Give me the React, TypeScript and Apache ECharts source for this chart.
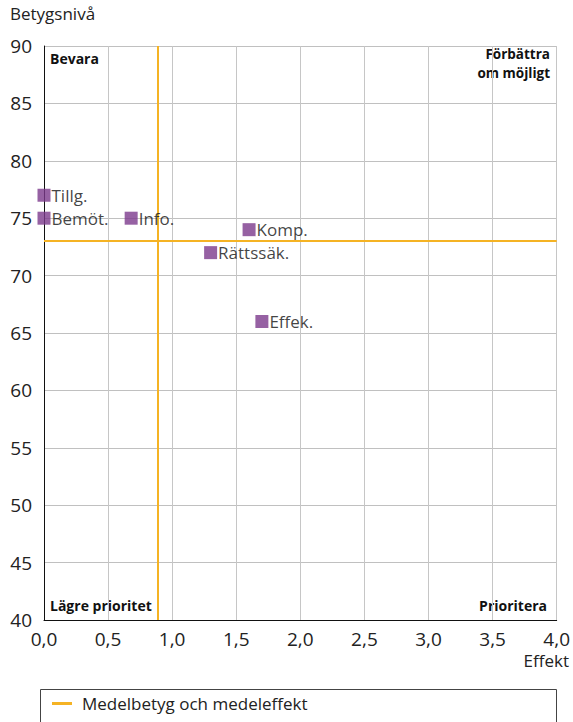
import React, { useEffect, useRef } from "react";
import * as echarts from "echarts";

const pointNames = ["Tillg.", "Bemöt.", "Info.", "Komp.", "Rättssäk.", "Effek."];
const effektValues = [0.0, 0.0, 0.68, 1.6, 1.3, 1.7];
const betygValues = [77, 75, 75, 74, 72, 66];
const meanEffekt = 0.89;
const meanBetyg = 73;
const legendName = "Medelbetyg och medeleffekt";
const yAxisTitle = "Betygsnivå";
const xAxisTitle = "Effekt";
const quadrantLabels = ["Bevara", "Förbättra", "om möjligt", "Lägre prioritet", "Prioritera"];

const FONT = "'Open Sans', 'Noto Sans', sans-serif";
const PURPLE = "#7c3a8c";
const YELLOW = "#f5b324";

export default function App() {
  const ref = useRef<HTMLDivElement>(null);
  useEffect(() => {
    if (!ref.current) return;
    const chart = echarts.init(ref.current, null, { renderer: "svg" });
    const data = pointNames.map((n, i) => ({ name: n, value: [effektValues[i], betygValues[i]] }));
    const quadStyle = { fontSize: 14, lineHeight: 16, fontWeight: "bold", fill: "#111", fontFamily: FONT };
    const cornerStyle = { fontSize: 13.5, lineHeight: 16, fontWeight: "bold", fill: "#111", fontFamily: FONT };
    chart.setOption({
      animation: false,
      textStyle: { fontFamily: FONT },
      grid: { left: 44, right: 16, top: 46, bottom: 102, containLabel: false },
      xAxis: {
        type: "value",
        min: 0,
        max: 4,
        interval: 0.5,
        axisLine: { show: true, onZero: false, lineStyle: { color: "#111", width: 1 } },
        axisTick: { show: false },
        axisLabel: {
          fontSize: 19,
          color: "#222",
          margin: 9,
          fontFamily: FONT,
          formatter: (v: number) => v.toFixed(1).replace(".", ","),
        },
        splitLine: { show: true, lineStyle: { color: "#c6c6c6", width: 1 } },
      },
      yAxis: {
        type: "value",
        min: 40,
        max: 90,
        interval: 5,
        axisLine: { show: true, onZero: false, lineStyle: { color: "#111", width: 1 } },
        axisTick: { show: false },
        axisLabel: { fontSize: 19, color: "#222", margin: 12, fontFamily: FONT },
        splitLine: { show: true, lineStyle: { color: "#c0c0c0", width: 1 } },
      },
      legend: {
        left: 52,
        top: 695,
        padding: 0,
        icon: "rect",
        itemWidth: 20,
        itemHeight: 3,
        itemGap: 10,
        textStyle: { fontSize: 17, color: "#222", fontFamily: FONT, padding: [0, 0, 0, 5] },
        data: [{ name: legendName, itemStyle: { color: YELLOW } }],
      },
      series: [
        {
          name: legendName,
          type: "line",
          data: [],
          itemStyle: { color: YELLOW },
          lineStyle: { color: YELLOW, width: 2 },
          markLine: {
            silent: true,
            symbol: "none",
            label: { show: false },
            lineStyle: { color: YELLOW, width: 2, type: "solid" },
            data: [{ xAxis: meanEffekt }, { yAxis: meanBetyg }],
          },
          z: 3,
        },
        {
          name: "points",
          type: "scatter",
          symbol: "rect",
          symbolSize: 13,
          itemStyle: { color: PURPLE },
          label: {
            show: true,
            position: "right",
            distance: 1,
            formatter: "{b}",
            fontSize: 17,
            color: "#111",
            fontFamily: FONT,
          },
          data,
          z: 5,
        },
      ],
      graphic: [
        { type: "text", left: 10, top: 5, style: { text: yAxisTitle, fontSize: 17, fill: "#222", fontFamily: FONT } },
        { type: "text", right: 4, top: 652, style: { text: xAxisTitle, fontSize: 17, fill: "#222", fontFamily: FONT } },
        { type: "text", left: 50, top: 50, style: { ...quadStyle, text: quadrantLabels[0] } },
        { type: "text", right: 23, top: 46, style: { ...cornerStyle, text: quadrantLabels[1] } },
        { type: "text", right: 23, top: 65, style: { ...cornerStyle, text: quadrantLabels[2] } },
        { type: "text", left: 50, top: 597, style: { ...quadStyle, text: quadrantLabels[3] } },
        { type: "text", right: 26, top: 597, style: { ...quadStyle, text: quadrantLabels[4] } },
        { type: "rect", shape: { x: 40.5, y: 689.5, width: 516, height: 50 }, style: { fill: "none", stroke: "#444", lineWidth: 1 } },
      ],
    });
    return () => chart.dispose();
  }, []);
  return <div ref={ref} style={{ width: 573, height: 722, position: "absolute", left: 0, top: 0 }} />;
}
